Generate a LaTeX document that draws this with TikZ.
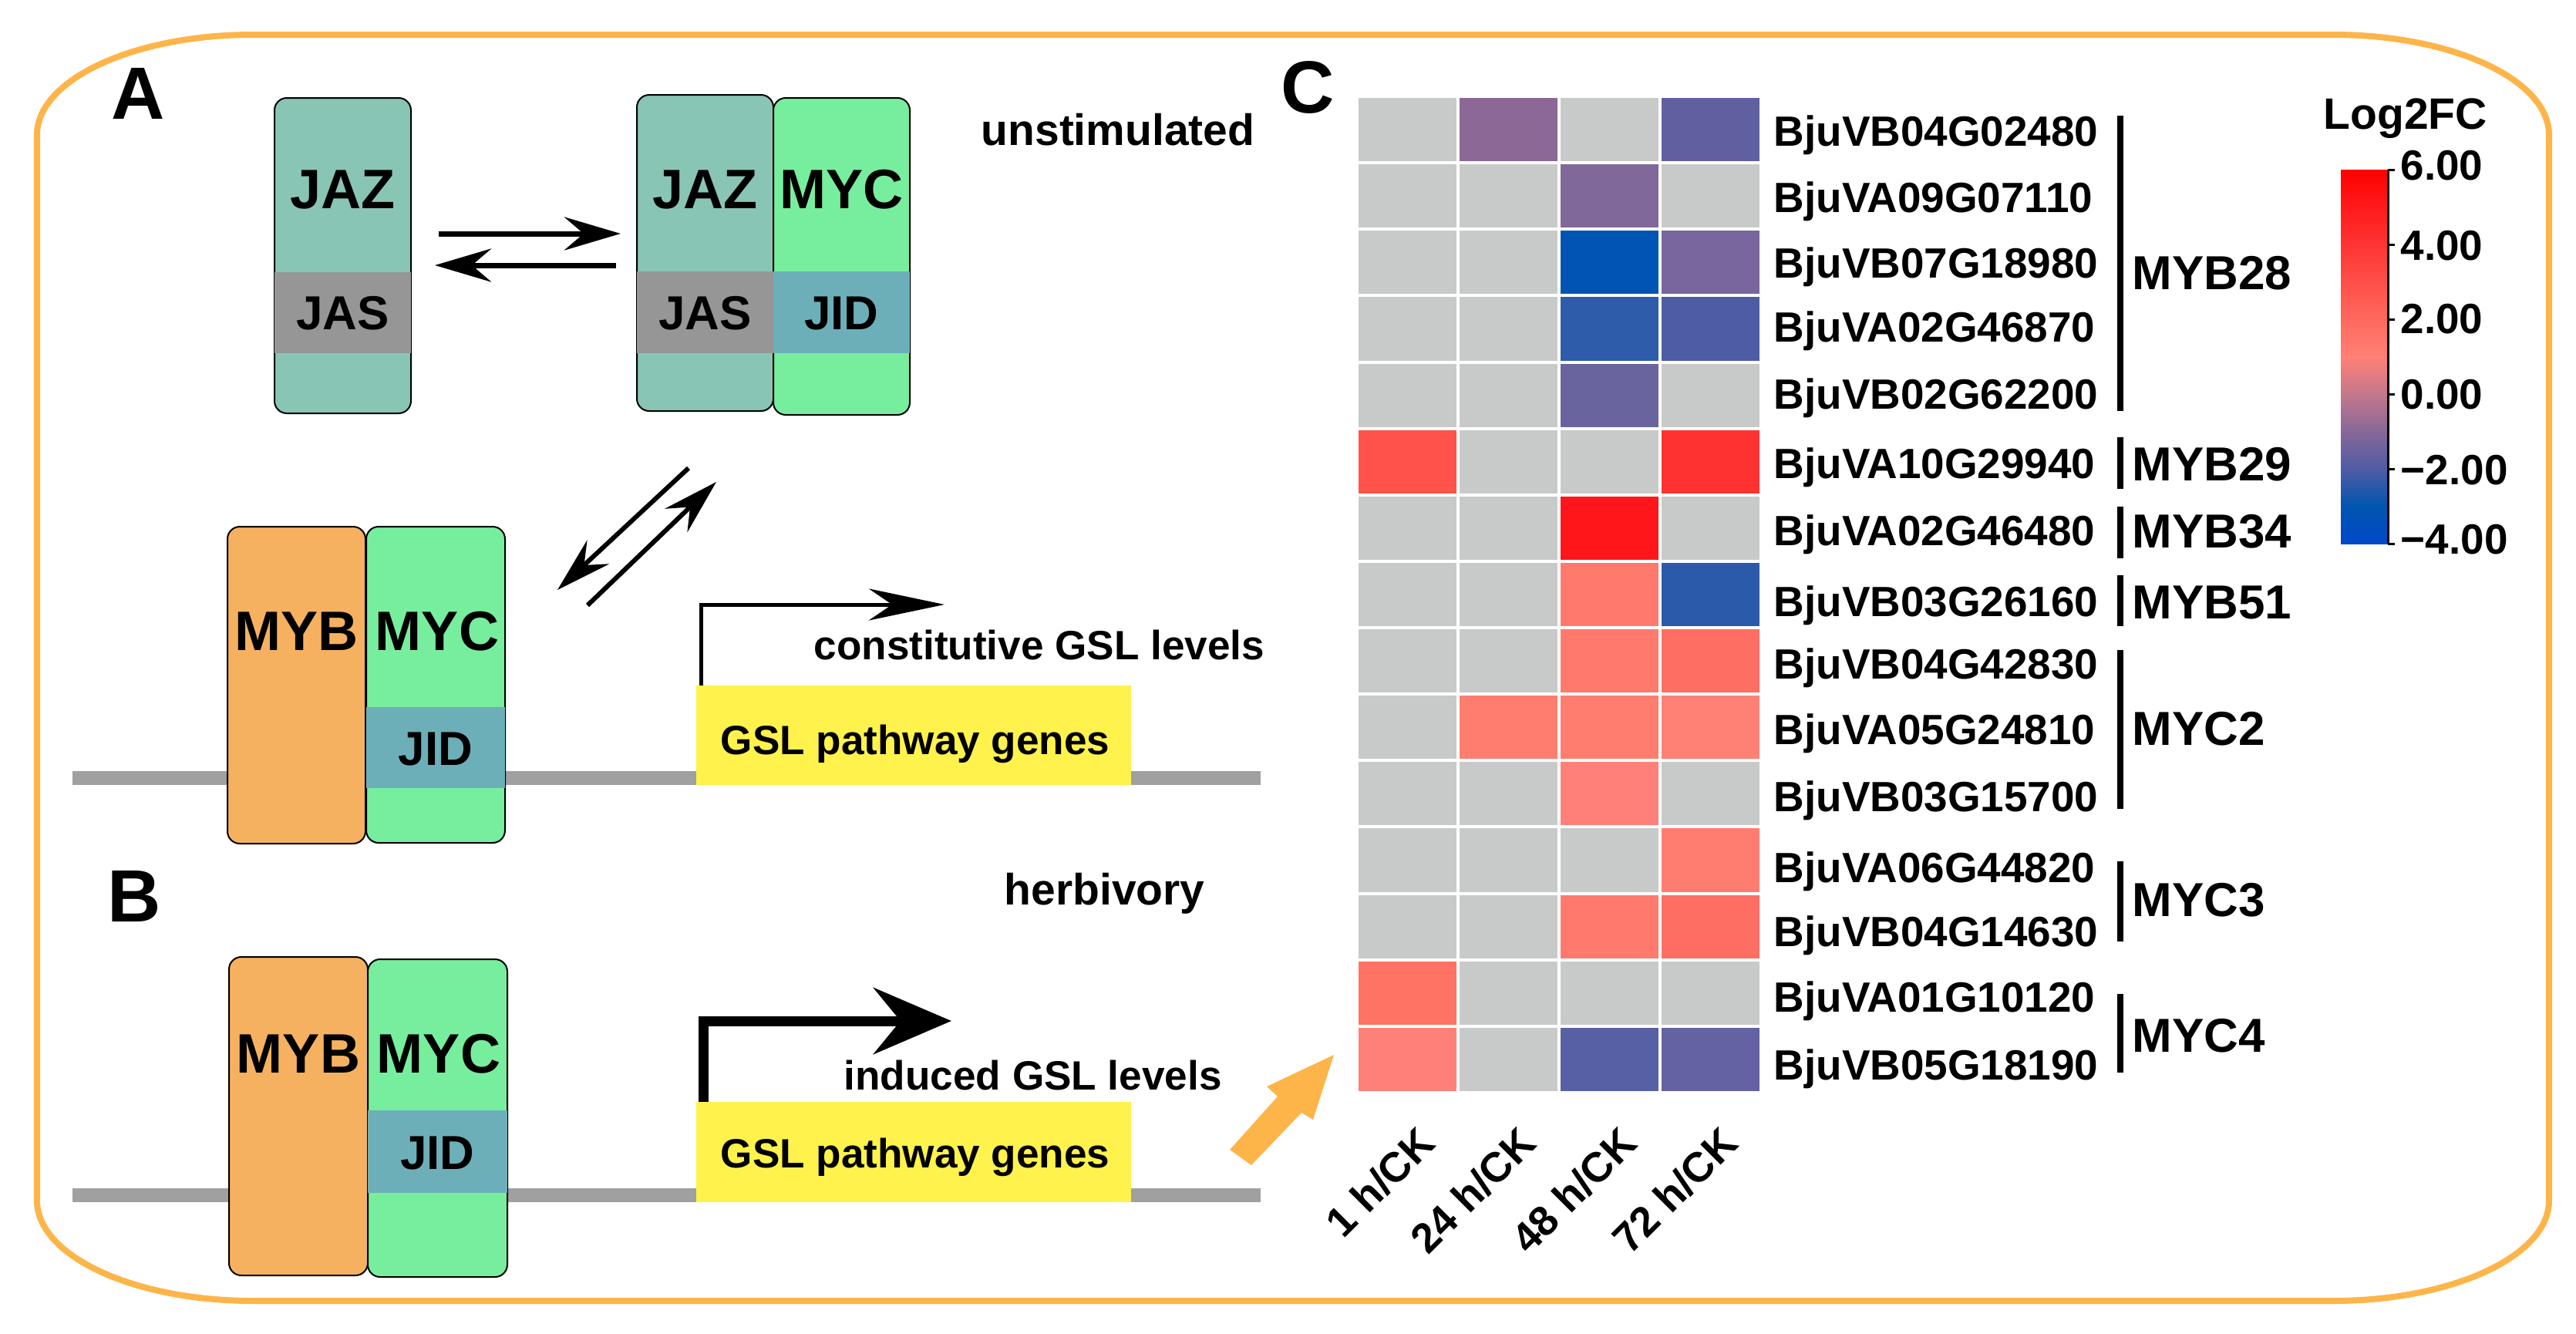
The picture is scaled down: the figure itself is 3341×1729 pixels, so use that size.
\documentclass[tikz,border=0pt]{standalone}
\usepackage{fontspec}
\setmainfont{Liberation Sans}
\usetikzlibrary{arrows.meta}
\definecolor{frameor}{RGB}{253,181,74}
\definecolor{jazc}{RGB}{137,197,181}
\definecolor{jasc}{RGB}{150,150,150}
\definecolor{jidc}{RGB}{109,175,185}
\definecolor{mycc}{RGB}{119,238,158}
\definecolor{mybc}{RGB}{246,177,96}
\definecolor{genec}{RGB}{255,242,76}
\definecolor{dnac}{RGB}{160,160,160}
\definecolor{hg}{RGB}{200,202,201}
\definecolor{hA}{RGB}{140,104,150}
\definecolor{hB}{RGB}{96,96,160}
\definecolor{hC}{RGB}{128,104,155}
\definecolor{hD}{RGB}{0,85,180}
\definecolor{hE}{RGB}{122,102,158}
\definecolor{hF}{RGB}{46,92,170}
\definecolor{hG}{RGB}{78,92,165}
\definecolor{hH}{RGB}{106,100,158}
\definecolor{hI}{RGB}{255,82,75}
\definecolor{hJ}{RGB}{255,50,50}
\definecolor{hK}{RGB}{255,22,26}
\definecolor{hL}{RGB}{255,122,108}
\definecolor{hM}{RGB}{44,90,170}
\definecolor{hN}{RGB}{255,110,98}
\definecolor{hO}{RGB}{255,125,110}
\definecolor{hP}{RGB}{255,128,116}
\definecolor{hQ}{RGB}{255,128,120}
\definecolor{hR}{RGB}{255,124,112}
\definecolor{hS}{RGB}{255,115,100}
\definecolor{hT}{RGB}{88,96,165}
\definecolor{hU}{RGB}{100,98,162}
\definecolor{cbmfour}{RGB}{0,72,204}
\definecolor{cbmthree}{RGB}{0,85,175}
\definecolor{cbmtwo}{RGB}{80,92,165}
\definecolor{cbmone}{RGB}{135,104,152}
\definecolor{cbzero}{RGB}{196,120,140}
\definecolor{cbpone}{RGB}{255,128,118}
\definecolor{cbptwo}{RGB}{255,105,92}
\definecolor{cbpfour}{RGB}{255,52,52}
\definecolor{cbpsix}{RGB}{255,0,0}
\pgfdeclareverticalshading{cbarshade}{100bp}{color(0bp)=(cbmfour); color(25bp)=(cbmfour); color(30bp)=(cbmthree); color(35bp)=(cbmtwo); color(40bp)=(cbmone); color(45bp)=(cbzero); color(50bp)=(cbpone); color(55bp)=(cbptwo); color(65bp)=(cbpfour); color(75bp)=(cbpsix); color(100bp)=(cbpsix)}
\newcommand{\myfs}[1]{\fontsize{#1pt}{#1pt}\selectfont\bfseries}
\tikzset{
  txt/.style={inner sep=0pt, anchor=base west},
  ctxt/.style={inner sep=0pt, anchor=base},
  protbox/.style={draw=black, line width=0.02cm, rounded corners=0.16cm},
  eqarrow/.style={line width=0.07cm, -{Stealth[length=0.73cm,width=0.43cm,inset=0.25cm]}},
  diagarrow/.style={line width=0.06cm, -{Stealth[length=0.72cm,width=0.42cm,inset=0.25cm]}},
  hcell/.style={draw=white, line width=0.04cm},
  bracket/.style={line width=0.08cm}
}
\begin{document}
\begin{tikzpicture}[x=0.01cm,y=-0.01cm]
\useasboundingbox (0,0) rectangle (3341,1729);
% frame
\draw[frameor, line width=0.08cm] (328,45) -- (3026,45)
  .. controls (3180.6,45) and (3306,103.2) .. (3306,175)
  -- (3306,1557)
  .. controls (3306,1628.8) and (3180.6,1687) .. (3026,1687)
  -- (328,1687)
  .. controls (173.4,1687) and (48,1628.8) .. (48,1557)
  -- (48,175)
  .. controls (48,103.2) and (173.4,45) .. (328,45) -- cycle;
% panel labels
\node[txt, font=\myfs{27.3}] (lblA) at (144,154) {A};
\node[txt, font=\myfs{27.3}] (lblB) at (139,1195) {B};
\node[txt, font=\myfs{27.3}] (lblC) at (1661,146) {C};
% ---------- panel A top ----------
\filldraw[protbox, fill=jazc] (356,127) rectangle (533,536);
\fill[jasc] (356,353) rectangle (533,458);
\node[ctxt, font=\myfs{20.5}] (jaz1) at (444.5,270) {JAZ};
\node[ctxt, font=\myfs{17.6}] (jas1) at (444.5,427) {JAS};
\filldraw[protbox, fill=jazc] (826,123) rectangle (1003,533);
\filldraw[protbox, fill=mycc] (1003,127) rectangle (1180,538);
\fill[jasc] (826,352) rectangle (1003,458);
\fill[jidc] (1003,352) rectangle (1180,458);
\node[ctxt, font=\myfs{20.5}] (jaz2) at (914.5,270) {JAZ};
\node[ctxt, font=\myfs{20.5}] (myc2) at (1091.5,270) {MYC};
\node[ctxt, font=\myfs{17.6}] (jas2) at (914.5,427) {JAS};
\node[ctxt, font=\myfs{17.6}] (jid2) at (1091.5,427) {JID};
\node[txt, font=\myfs{16.2}] (unst) at (1272,188) {unstimulated};
% equilibrium arrows
\coordinate (ra1) at (569,303); \coordinate (ra2) at (805,303);
\coordinate (rb1) at (799,344); \coordinate (rb2) at (564,344);
\draw[eqarrow] (ra1) -- (ra2);
\draw[eqarrow] (rb1) -- (rb2);
\coordinate (da1) at (893,607); \coordinate (da2) at (723,765);
\coordinate (db1) at (762,785); \coordinate (db2) at (929,625);
\draw[diagarrow] (da1) -- (da2);
\draw[diagarrow] (db1) -- (db2);
% ---------- panel A bottom ----------
\fill[dnac] (94,1000) rectangle (1635,1018);
\fill[genec] (903,889) rectangle (1467,1018);
\node[ctxt, font=\myfs{15.1}] (gslA) at (1187,978) {GSL pathway genes};
\filldraw[protbox, fill=mybc] (295,683) rectangle (474,1094);
\filldraw[protbox, fill=mycc] (475,683) rectangle (655,1093);
\fill[jidc] (475,917) rectangle (655,1022);
\node[ctxt, font=\myfs{20.5}] (mybA) at (384.5,843) {MYB};
\node[ctxt, font=\myfs{20.5}] (mycA) at (567,843) {MYC};
\node[ctxt, font=\myfs{17.6}] (jidA) at (565,992) {JID};
\coordinate (pA0) at (909,889); \coordinate (pA1) at (909,784); \coordinate (pA2) at (1225,784);
\draw[line width=0.05cm, line join=miter, -{Stealth[length=0.98cm,width=0.41cm,inset=0.3cm]}] (pA0) -- (pA1) -- (pA2);
\node[txt, font=\myfs{15.1}] (constit) at (1055,855) {constitutive GSL levels};
% ---------- panel B ----------
\node[txt, font=\myfs{16.2}] (herb) at (1302,1173) {herbivory};
\fill[dnac] (94,1541) rectangle (1635,1559);
\fill[genec] (903,1429) rectangle (1467,1559);
\node[ctxt, font=\myfs{15.1}] (gslB) at (1187,1514) {GSL pathway genes};
\filldraw[protbox, fill=mybc] (297,1241) rectangle (477,1654);
\filldraw[protbox, fill=mycc] (477,1244) rectangle (658,1656);
\fill[jidc] (477,1440) rectangle (658,1547);
\node[ctxt, font=\myfs{20.5}] (mybB) at (387,1391) {MYB};
\node[ctxt, font=\myfs{20.5}] (mycB) at (569,1391) {MYC};
\node[ctxt, font=\myfs{17.6}] (jidB) at (567.5,1516) {JID};
\coordinate (pB0) at (912,1429); \coordinate (pB1) at (912,1324); \coordinate (pB2) at (1234,1324);
\draw[line width=0.13cm, line join=miter, -{Stealth[length=1.01cm,width=0.86cm,inset=0.35cm]}] (pB0) -- (pB1) -- (pB2);
\node[txt, font=\myfs{15.1}] (induced) at (1094,1413) {induced GSL levels};
% orange pointer arrow
\fill[frameor] (1595,1491) -- (1657,1422) -- (1643,1409) -- (1730,1368) -- (1703,1452) -- (1688,1443) -- (1623,1511) -- cycle;
% ---------- panel C heatmap ----------
\foreach \r in {0,...,14}{
  \foreach \c in {0,...,3}{
    \filldraw[hcell, fill=hg] ({1760+\c*131},{125+\r*86.13}) rectangle ++(131,86.13);
  }
}
\foreach \r/\c/\cl in {0/1/hA, 0/3/hB, 1/2/hC, 2/2/hD, 2/3/hE, 3/2/hF, 3/3/hG, 4/2/hH, 5/0/hI, 5/3/hJ, 6/2/hK, 7/2/hL, 7/3/hM, 8/2/hL, 8/3/hN, 9/1/hO, 9/2/hO, 9/3/hP, 10/2/hQ, 11/3/hR, 12/2/hL, 12/3/hN, 13/0/hS, 14/0/hQ, 14/2/hT, 14/3/hU}{
  \filldraw[hcell, fill=\cl] ({1760+\c*131},{125+\r*86.13}) rectangle ++(131,86.13);
}
% gene labels
\foreach \g/\y [count=\i] in {BjuVB04G02480/189.5, BjuVA09G07110/275, BjuVB07G18980/360, BjuVA02G46870/443, BjuVB02G62200/530, BjuVA10G29940/620, BjuVA02G46480/707, BjuVB03G26160/799, BjuVB04G42830/880, BjuVA05G24810/965, BjuVB03G15700/1052, BjuVA06G44820/1144, BjuVB04G14630/1227, BjuVA01G10120/1312, BjuVB05G18190/1400}{
  \node[txt, font=\myfs{15.6}] (gene\i) at (2300,\y) {\g};
}
% family brackets
\foreach \n/\ya/\yb/\yt [count=\i] in {MYB28/150/533/375, MYB29/567/634/623, MYB34/657/724/710, MYB51/746/812/802, MYC2/843/1049/966, MYC3/1117/1221/1188, MYC4/1289/1391/1364}{
  \coordinate (bt\i) at (2750,\ya);
  \coordinate (bb\i) at (2750,\yb);
  \draw[bracket] (bt\i) -- (bb\i);
  \node[txt, font=\myfs{17.6}] (fam\i) at (2765,\yt) {\n};
}
% column labels
\node[inner sep=0pt, anchor=east, rotate=45, font=\myfs{15.4}] (col1) at (1851,1472) {1 h/CK};
\node[inner sep=0pt, anchor=east, rotate=45, font=\myfs{15.4}] (col2) at (1982,1472) {24 h/CK};
\node[inner sep=0pt, anchor=east, rotate=45, font=\myfs{15.4}] (col3) at (2113,1472) {48 h/CK};
\node[inner sep=0pt, anchor=east, rotate=45, font=\myfs{15.4}] (col4) at (2244,1472) {72 h/CK};
% colour bar
\shade[shading=cbarshade] (3036,220) rectangle (3097,705);
\draw[line width=0.03cm] (3097,220) -- (3097,705);
\foreach \yy in {220,317,414,511,608,705}{
  \draw[line width=0.03cm] (3097,\yy) -- (3106,\yy);
}
\node[txt, font=\myfs{16.2}] (legtitle) at (3013,167) {Log2FC};
\node[txt, font=\myfs{15.6}] (t6) at (3113,233) {6.00};
\node[txt, font=\myfs{15.6}] (t4) at (3113,337) {4.00};
\node[txt, font=\myfs{15.6}] (t2) at (3113,432) {2.00};
\node[txt, font=\myfs{15.6}] (t0) at (3113,530) {0.00};
\node[txt, font=\myfs{15.6}] (tm2) at (3113,628) {−2.00};
\node[txt, font=\myfs{15.6}] (tm4) at (3113,718) {−4.00};
\end{tikzpicture}
\end{document}
